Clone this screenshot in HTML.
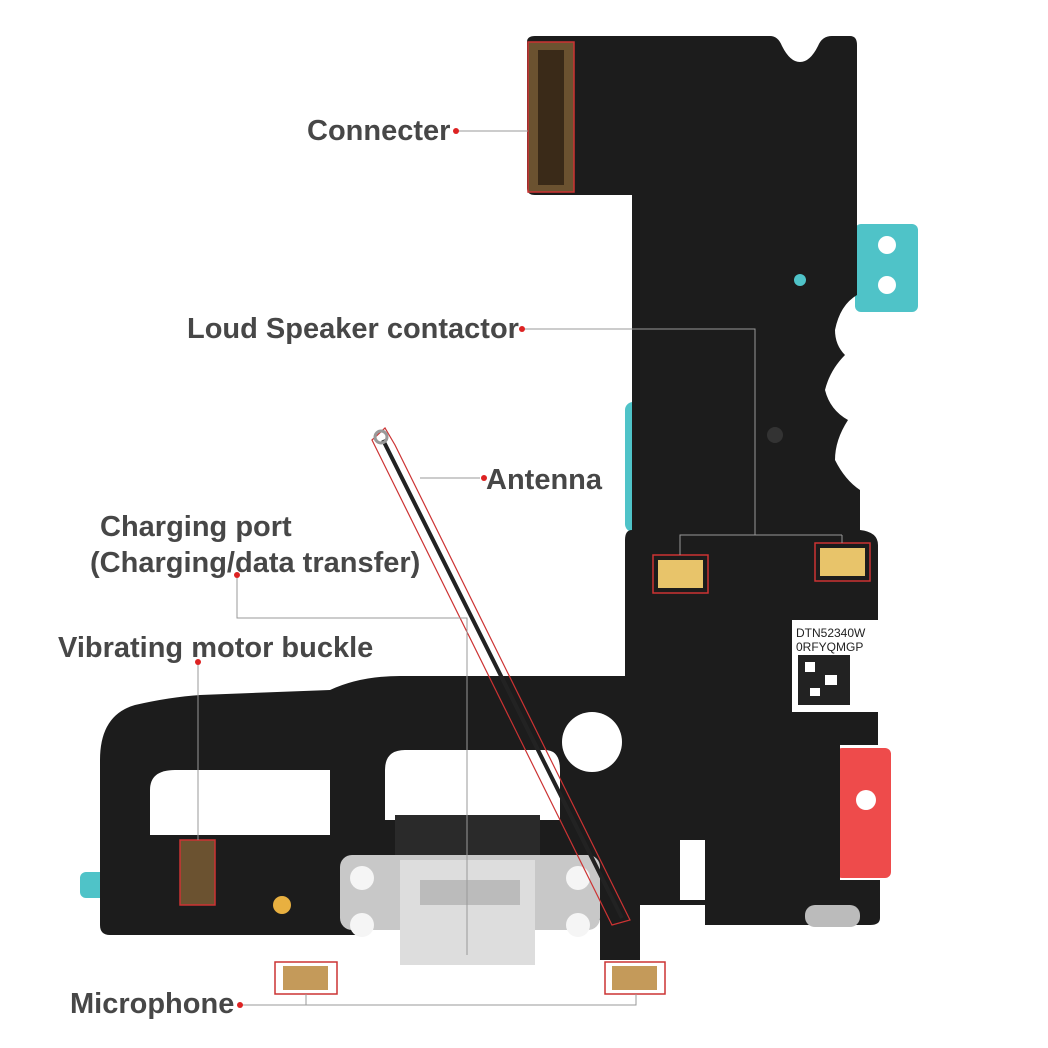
<!DOCTYPE html>
<html><head><meta charset="utf-8"><style>
html,body{margin:0;padding:0;background:#fff;}
svg{display:block;}
text{font-family:"Liberation Sans",sans-serif;font-size:29px;fill:#474747;font-weight:bold;}
</style></head><body>
<svg width="1048" height="1048" viewBox="0 0 1048 1048" xmlns="http://www.w3.org/2000/svg">
<rect x="855" y="224" width="63" height="88" rx="6" fill="#4fc3c8"/>
<circle cx="887" cy="245" r="9" fill="#fff"/><circle cx="887" cy="285" r="9" fill="#fff"/>
<rect x="625" y="402" width="70" height="130" rx="8" fill="#4fc3c8"/>
<rect x="638" y="440" width="45" height="60" rx="20" fill="#fff"/>
<rect x="836" y="748" width="55" height="130" rx="6" fill="#ee4b4b"/>
<circle cx="866" cy="800" r="10" fill="#fff"/>
<rect x="80" y="872" width="35" height="26" rx="6" fill="#4fc3c8"/>
<path d="M527,42 Q527,36 535,36 L770,36 Q778,36 782,46 Q790,62 800,62 Q810,62 818,46 Q822,36 832,36 L850,36 Q857,36 857,45 L857,295 Q840,305 835,330 Q835,345 845,355 Q830,370 825,390 Q830,410 848,420 Q835,440 835,460 Q845,480 860,490 L860,530 Q878,532 878,545 L878,745 L840,745 L840,880 L880,880 L880,918 Q880,925 870,925 L705,925 L705,905 L640,905 L640,960 L600,960 L600,920 L360,920 L360,935 L110,935 Q100,935 100,925 L100,760 Q100,715 135,705 Q170,697 200,695 L330,690 Q360,676 400,676 L625,676 L625,540 Q625,530 632,530 L632,195 L535,195 Q527,195 527,188 Z" fill="#1c1c1c"/>
<path d="M150,835 L150,790 Q150,770 175,770 L330,770 L330,835 Z" fill="#fff"/>
<path d="M385,820 L385,770 Q385,750 405,750 L545,750 Q560,750 560,770 L560,820 Z" fill="#fff"/>
<circle cx="592" cy="742" r="30" fill="#fff"/>
<rect x="680" y="840" width="25" height="60" fill="#fff"/>
<circle cx="800" cy="55" r="6" fill="#fff"/>
<circle cx="800" cy="280" r="6" fill="#4fc3c8"/>
<circle cx="775" cy="435" r="8" fill="#333"/>
<rect x="528" y="42" width="46" height="150" fill="#6b5230"/>
<rect x="538" y="50" width="26" height="135" fill="#3a2a18"/>
<rect x="528" y="42" width="46" height="150" fill="none" stroke="#c33" stroke-width="1.5"/>
<rect x="653" y="555" width="55" height="38" fill="none" stroke="#c33" stroke-width="1.5"/>
<rect x="658" y="560" width="45" height="28" fill="#e8c46a"/>
<rect x="815" y="543" width="55" height="38" fill="none" stroke="#c33" stroke-width="1.5"/>
<rect x="820" y="548" width="45" height="28" fill="#e8c46a"/>
<rect x="792" y="620" width="86" height="92" fill="#fff"/>
<text x="796" y="637" style="font-size:12px;font-weight:normal;fill:#222">DTN52340W</text>
<text x="796" y="651" style="font-size:12px;font-weight:normal;fill:#222">0RFYQMGP</text>
<rect x="798" y="655" width="52" height="50" fill="#222"/>
<rect x="805" y="662" width="10" height="10" fill="#fff"/><rect x="825" y="675" width="12" height="10" fill="#fff"/><rect x="810" y="688" width="10" height="8" fill="#fff"/>
<rect x="180" y="840" width="35" height="65" fill="#6b5230" stroke="#c33" stroke-width="1.5"/>
<rect x="395" y="815" width="145" height="40" fill="#2a2a2a"/>
<rect x="340" y="855" width="260" height="75" rx="12" fill="#c8c8c8"/>
<rect x="400" y="860" width="135" height="105" fill="#ddd"/>
<circle cx="362" cy="878" r="12" fill="#f5f5f5"/><circle cx="362" cy="925" r="12" fill="#f5f5f5"/>
<circle cx="578" cy="878" r="12" fill="#f5f5f5"/><circle cx="578" cy="925" r="12" fill="#f5f5f5"/>
<rect x="420" y="880" width="100" height="25" fill="#bbb"/>
<circle cx="282" cy="905" r="9" fill="#e8b040"/>
<rect x="275" y="962" width="62" height="32" fill="none" stroke="#c33" stroke-width="1.5"/>
<rect x="283" y="966" width="45" height="24" fill="#c49a5a"/>
<rect x="605" y="962" width="60" height="32" fill="none" stroke="#c33" stroke-width="1.5"/>
<rect x="612" y="966" width="45" height="24" fill="#c49a5a"/>
<rect x="805" y="905" width="55" height="22" rx="10" fill="#bbb"/>
<path d="M372,440 L385,428 L395,445 L630,920 L612,925 Z" fill="none" stroke="#c33" stroke-width="1.2"/>
<line x1="383" y1="440" x2="622" y2="918" stroke="#222" stroke-width="4"/>
<circle cx="381" cy="437" r="6" fill="none" stroke="#999" stroke-width="3"/>
<g stroke="#999" stroke-width="1" fill="none">
<line x1="456" y1="131" x2="528" y2="131"/>
<polyline points="522,329 755,329 755,535 680,535 680,555"/>
<line x1="755" y1="535" x2="842" y2="535"/><line x1="842" y1="535" x2="842" y2="543"/>
<line x1="420" y1="478" x2="480" y2="478"/>
<polyline points="237,575 237,618 467,618 467,955"/>
<line x1="198" y1="663" x2="198" y2="840"/>
<polyline points="240,1005 306,1005 306,994"/>
<polyline points="306,1005 636,1005 636,994"/>
</g>
<g fill="#d22">
<circle cx="456" cy="131" r="3"/><circle cx="522" cy="329" r="3"/><circle cx="484" cy="478" r="3"/>
<circle cx="237" cy="575" r="3"/><circle cx="198" cy="662" r="3"/><circle cx="240" cy="1005" r="3"/>
</g>
<text x="307" y="140">Connecter</text>
<text x="187" y="338">Loud Speaker contactor</text>
<text x="486" y="489">Antenna</text>
<text x="100" y="536">Charging port</text>
<text x="90" y="572">(Charging/data transfer)</text>
<text x="58" y="657">Vibrating motor buckle</text>
<text x="70" y="1013">Microphone</text>
</svg>
</body></html>
